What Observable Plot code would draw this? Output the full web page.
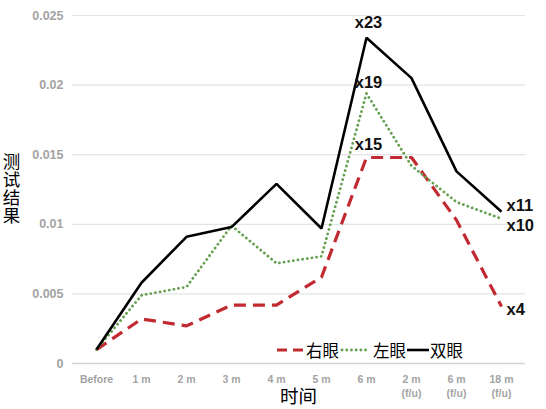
<!DOCTYPE html>
<html>
<head>
<meta charset="utf-8">
<script src="https://cdn.jsdelivr.net/npm/d3@7"></script>
<script src="https://cdn.jsdelivr.net/npm/@observablehq/plot@0.6"></script>
<style>
  html, body { margin: 0; padding: 0; background: #fff; }
  #wrap { position: relative; width: 546px; height: 409px; font-family: "Noto Sans CJK SC", "Noto Sans", sans-serif; }
  #ylab { position: absolute; left: 1px; top: 153px; font-size: 17.5px; line-height: 20px; color: #000;
          writing-mode: vertical-rl; text-orientation: upright; letter-spacing: 0.5px; }
  #xlab { position: absolute; left: 280px; top: 386px; font-family: "Liberation Sans", "Noto Sans CJK SC", sans-serif;
          font-size: 18.5px; line-height: 21px; color: #000; }
  #legend { position: absolute; left: 277px; top: 339px; display: flex; align-items: center; font-size: 16.5px; line-height: 22px; color: #000; }
  #legend span.t { margin: 0 1px; }
</style>
</head>
<body>
<div id="wrap">
  <div id="chart"></div>
  <div id="ylab"></div>
  <div id="xlab"></div>
  <div id="legend"></div>
</div>
<script>
const categories = ["Before", "1 m", "2 m", "3 m", "4 m", "5 m", "6 m", "2 m\n(f/u)", "6 m\n(f/u)", "18 m\n(f/u)"];
const rightEye = [0.001, 0.0032, 0.0027, 0.0042, 0.0042, 0.0062, 0.0148, 0.0148, 0.0103, 0.0041];
const leftEye  = [0.001, 0.0049, 0.0055, 0.0099, 0.0072, 0.0077, 0.0194, 0.0142, 0.0116, 0.0104];
const bothEyes = [0.001, 0.0058, 0.0091, 0.0098, 0.0129, 0.0097, 0.0234, 0.0205, 0.0138, 0.0109];
const seriesNames = ["右眼", "左眼", "双眼"];
const yTicks = [0, 0.005, 0.01, 0.015, 0.02, 0.025];
const yTickLabels = ["0", "0.005", "0.01", "0.015", "0.02", "0.025"];
const peakLabels = ["x15", "x19", "x23"];   // at "6 m": right, left, both
const endLabels = ["x4", "x10", "x11"];     // at "18 m (f/u)": right, left, both
const yTitle = "测试结果";
const xTitle = "时间";

const styles = [
  {stroke: "#c22a32", strokeWidth: 3.2, strokeDasharray: "12,7", strokeLinecap: "butt"},
  {stroke: "#66a052", strokeWidth: 2.8, strokeDasharray: "0.1,4.6", strokeLinecap: "round"},
  {stroke: "#000000", strokeWidth: 2.6, strokeDasharray: null, strokeLinecap: "butt"}
];
const allSeries = [rightEye, leftEye, bothEyes];
const rows = s => categories.map((c, i) => ({cat: c, v: allSeries[s][i]}));

const peakDy = [-13, -11, -15];
const endDy = [3, 7, -6];
const lastCat = categories[categories.length - 1];

const marks = [
  Plot.ruleY(yTicks.filter(t => t > 0), {stroke: "#e3e3e3", strokeWidth: 1.2}),
  Plot.ruleY([0], {stroke: "#d4d4d4", strokeWidth: 1.5}),
  Plot.axisY({ticks: yTicks, tickSize: 0, tickPadding: 9, tickFormat: (d) => yTickLabels[yTicks.indexOf(d)],
    fill: "#a3a3a3", fontSize: 12.5, fontWeight: "bold", label: null}),
  Plot.axisX({tickSize: 0, tickPadding: 9, fill: "#a3a3a3", fontSize: 10.5, fontWeight: "bold", label: null, lineHeight: 1.35})
];
[0, 1, 2].forEach(s => {
  const st = styles[s];
  marks.push(Plot.line(rows(s), {x: "cat", y: "v", stroke: st.stroke, strokeWidth: st.strokeWidth,
    strokeDasharray: st.strokeDasharray, strokeLinecap: st.strokeLinecap, strokeLinejoin: "miter"}));
});
[0, 1, 2].forEach(s => {
  const iPeak = categories.indexOf("6 m");
  marks.push(Plot.text([{cat: categories[iPeak], v: allSeries[s][iPeak], t: peakLabels[s]}],
    {x: "cat", y: "v", text: "t", dx: 2, dy: peakDy[s], fontSize: 16.5, fontWeight: "bold", fill: "#111",
     fontFamily: "Liberation Sans, Arial, sans-serif"}));
  marks.push(Plot.text([{cat: lastCat, v: allSeries[s][categories.length - 1], t: endLabels[s]}],
    {x: "cat", y: "v", text: "t", dx: 5, dy: endDy[s], textAnchor: "start", fontSize: 16.5, fontWeight: "bold", fill: "#111",
     fontFamily: "Liberation Sans, Arial, sans-serif"}));
});

const chart = Plot.plot({
  width: 546,
  height: 409,
  marginLeft: 72,
  marginRight: 21,
  marginTop: 15,
  marginBottom: 46,
  style: {fontFamily: "Liberation Sans, Arial, sans-serif", background: "white", overflow: "visible"},
  x: {type: "point", domain: categories, padding: 0.5},
  y: {domain: [0, 0.025]},
  marks
});
document.getElementById("chart").appendChild(chart);

document.getElementById("ylab").textContent = yTitle;
document.getElementById("xlab").textContent = xTitle;

const legend = document.getElementById("legend");
const swW = [28, 32, 22];
seriesNames.forEach((name, s) => {
  const st = styles[s];
  const ns = "http://www.w3.org/2000/svg";
  const svg = document.createElementNS(ns, "svg");
  svg.setAttribute("width", swW[s]);
  svg.setAttribute("height", 10);
  const ln = document.createElementNS(ns, "line");
  ln.setAttribute("x1", s === 1 ? 2 : 0); ln.setAttribute("x2", swW[s] - (s === 1 ? 2 : 0));
  ln.setAttribute("y1", 5); ln.setAttribute("y2", 5);
  ln.setAttribute("stroke", st.stroke);
  ln.setAttribute("stroke-width", st.strokeWidth);
  if (st.strokeDasharray) ln.setAttribute("stroke-dasharray", s === 0 ? "10,6" : st.strokeDasharray);
  ln.setAttribute("stroke-linecap", st.strokeLinecap);
  svg.appendChild(ln);
  legend.appendChild(svg);
  const t = document.createElement("span");
  t.className = "t";
  t.textContent = name;
  legend.appendChild(t);
});
</script>
</body>
</html>
